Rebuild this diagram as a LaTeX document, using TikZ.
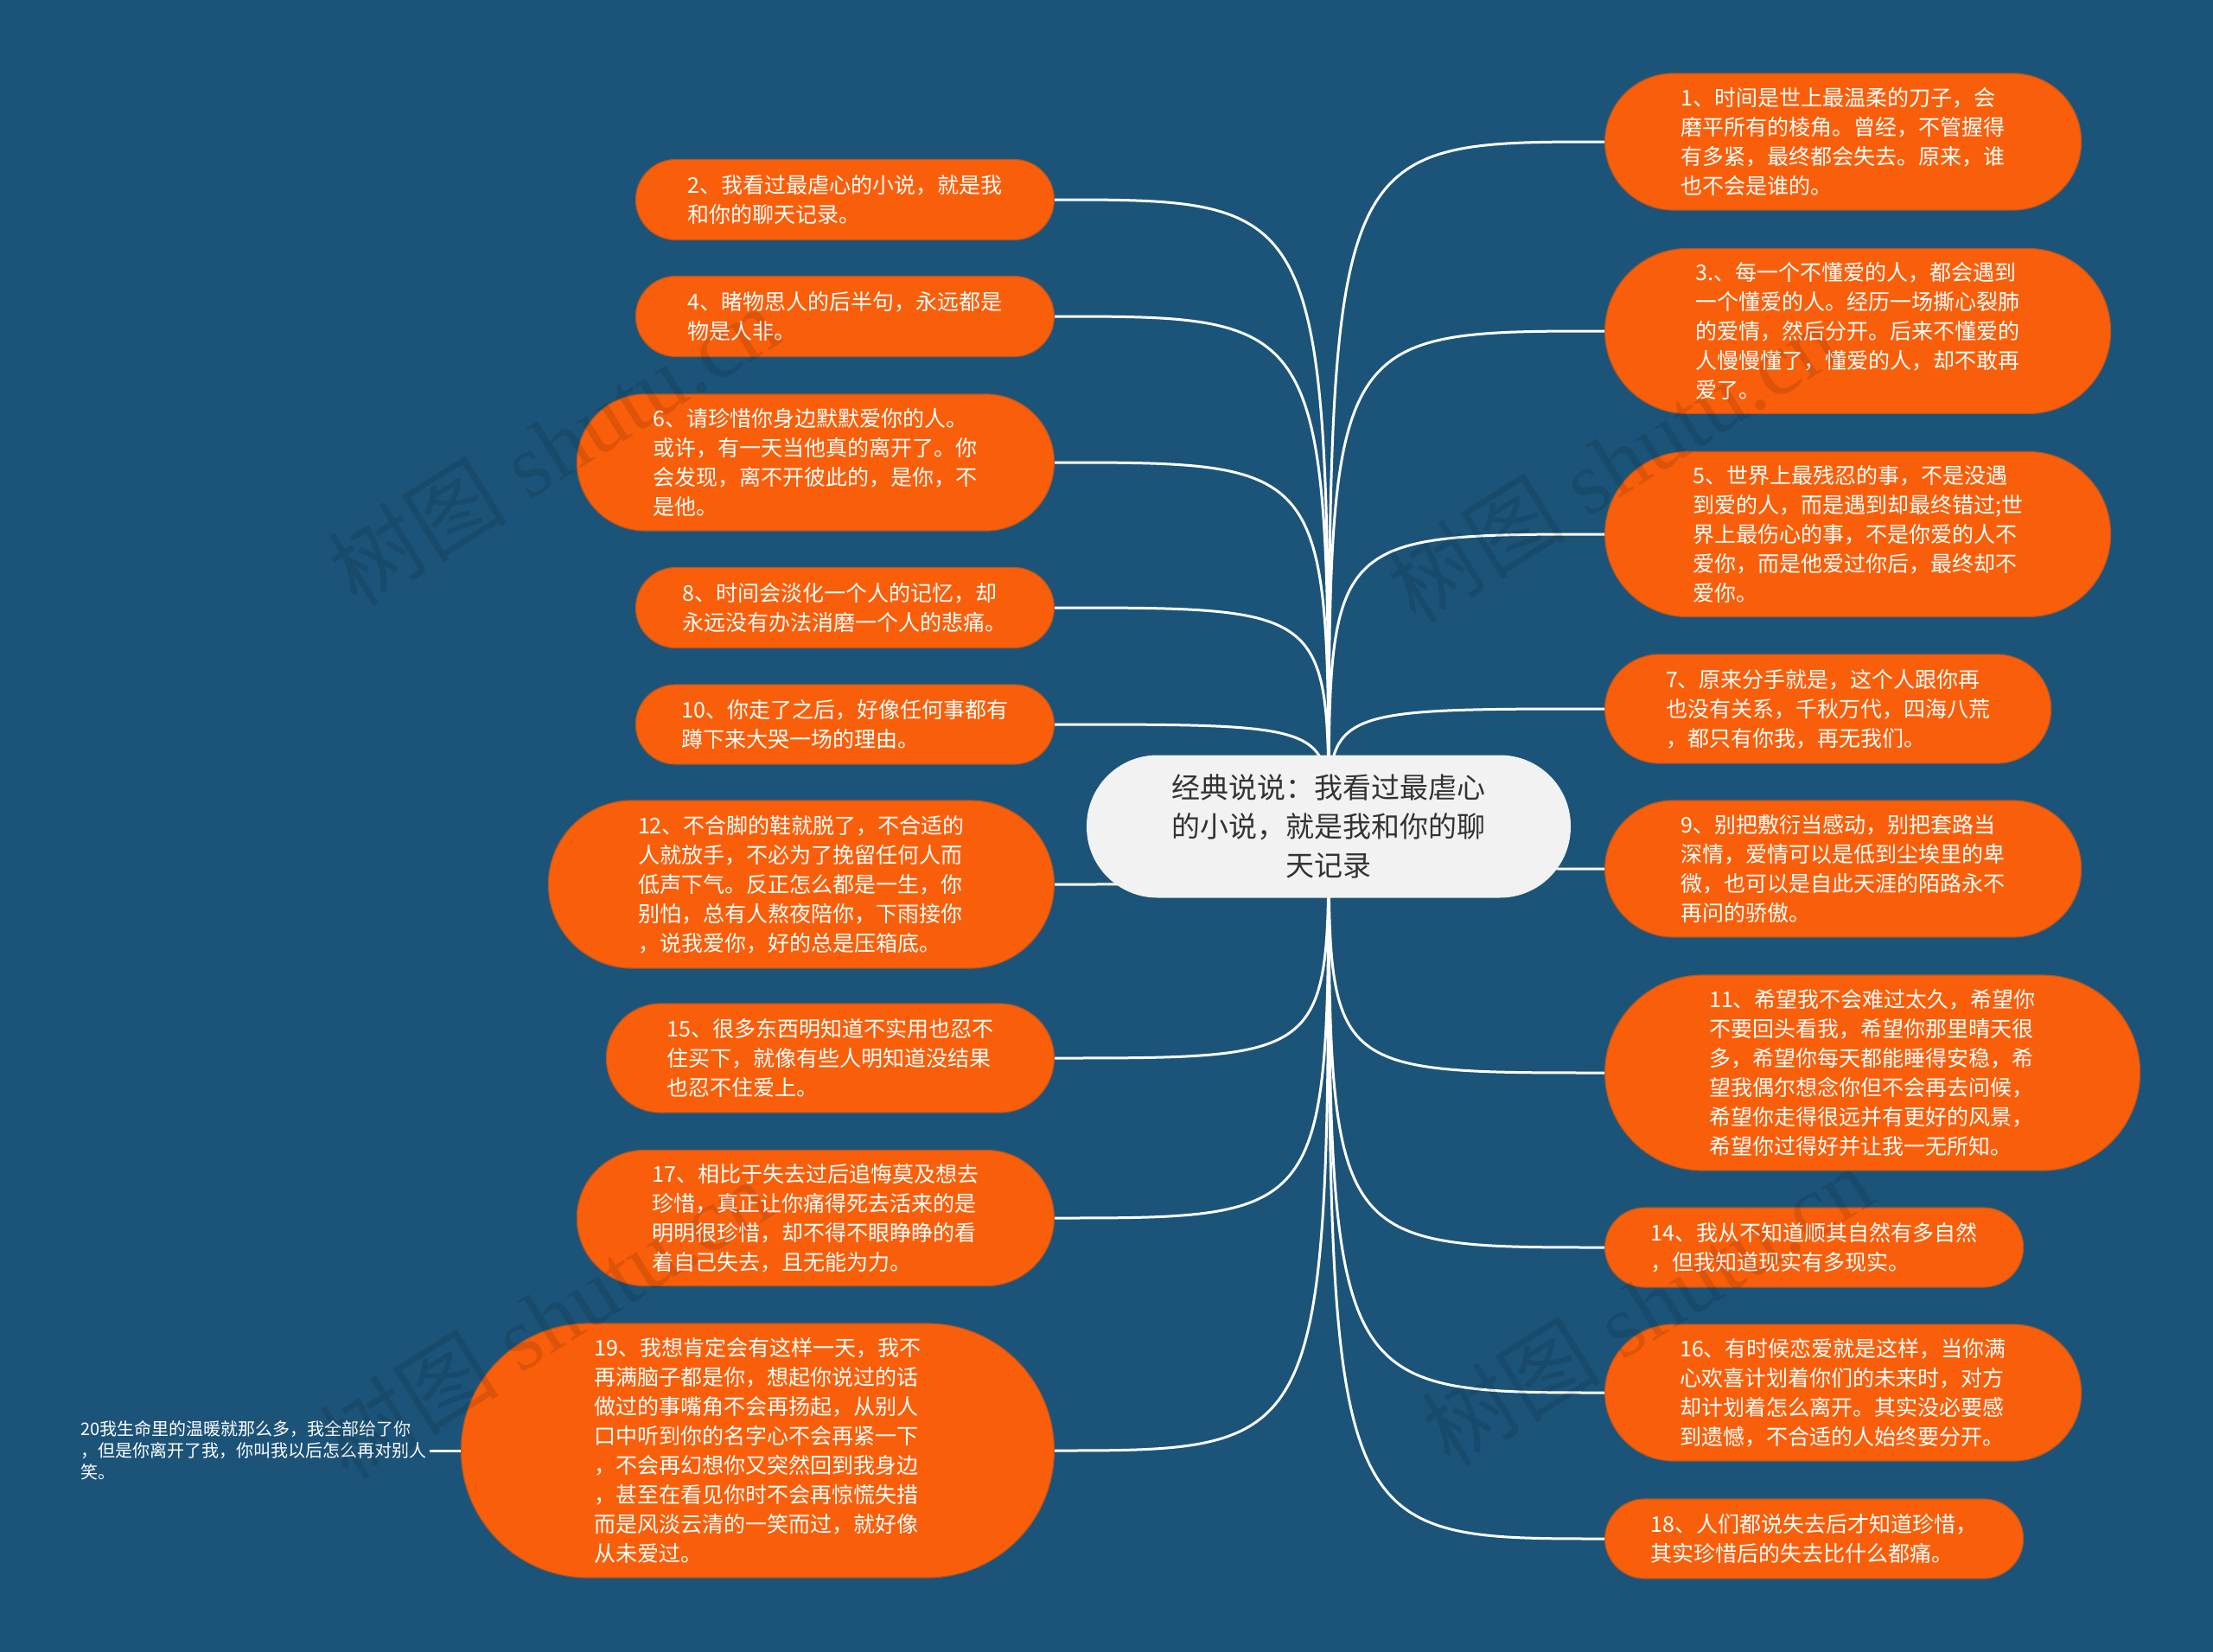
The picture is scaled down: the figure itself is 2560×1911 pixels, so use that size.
\documentclass[tikz,border=0pt]{standalone}
\usepackage{fontspec}
\newfontfamily\cjk{Noto Sans CJK SC}
\newfontfamily\wmserif{Liberation Serif}
\definecolor{bgblue}{HTML}{1C5479}
\definecolor{leafor}{HTML}{F95F0B}
\definecolor{leafedge}{HTML}{B9561F}
\definecolor{rootgray}{HTML}{F2F2F2}
\definecolor{roottext}{HTML}{333333}
\tikzset{
  leaf/.style 2 args={fill=leafor, draw=leafedge, line width=1.2pt, text=white, align=left,
    inner sep=0pt, font=\cjk\fontsize{25}{34}\selectfont,
    minimum width=#1pt, minimum height=#2pt, rounded corners=#2pt/2},
  root/.style={fill=rootgray, text=roottext, align=center, inner sep=0pt,
    font=\cjk\fontsize{33}{45}\selectfont, minimum width=560pt, minimum height=165pt,
    rounded corners=82pt},
  note/.style={text=white, align=left, inner sep=4pt, font=\cjk\fontsize{20}{25}\selectfont},
  link/.style={white, line width=3pt},
  wm/.style={black, opacity=0.11, rotate=32, font=\wmserif\fontsize{104}{104}\selectfont}
}
\begin{document}
\begin{tikzpicture}[x=1pt,y=-1pt]
% canvas
\fill[bgblue] (0,0) rectangle (2560,1911);
\useasboundingbox (0,0) rectangle (2560,1911);
\coordinate (hub) at (1537,956);
% left branches
\foreach \n/\y/\w/\h/\txt in {
  2/231/484/93/{2、我看过最虐心的小说，就是我\\和你的聊天记录。},
  4/366/484/93/{4、睹物思人的后半句，永远都是\\物是人非。},
  6/535/552/158/{6、请珍惜你身边默默爱你的人。\\或许，有一天当他真的离开了。你\\会发现，离不开彼此的，是你，不\\是他。},
  8/703/484/93/{8、时间会淡化一个人的记忆，却\\永远没有办法消磨一个人的悲痛。},
  10/838/484/92/{10、你走了之后，好像任何事都有\\蹲下来大哭一场的理由。},
  12/1023/585/194/{12、不合脚的鞋就脱了，不合适的\\人就放手，不必为了挽留任何人而\\低声下气。反正怎么都是一生，你\\别怕，总有人熬夜陪你，下雨接你\\，说我爱你，好的总是压箱底。},
  15/1224/518/126/{15、很多东西明知道不实用也忍不\\住买下，就像有些人明知道没结果\\也忍不住爱上。},
  17/1409/552/157/{17、相比于失去过后追悔莫及想去\\珍惜，真正让你痛得死去活来的是\\明明很珍惜，却不得不眼睁睁的看\\着自己失去，且无能为力。},
  19/1678/686/294/{19、我想肯定会有这样一天，我不\\再满脑子都是你，想起你说过的话\\做过的事嘴角不会再扬起，从别人\\口中听到你的名字心不会再紧一下\\，不会再幻想你又突然回到我身边\\，甚至在看见你时不会再惊慌失措\\而是风淡云清的一笑而过，就好像\\从未爱过。}}{
  \node[leaf={\w}{\h}, anchor=east] (n\n) at (1220,\y) {\txt};
  \draw[link] (hub) .. controls (hub |- n\n.east) .. (n\n.east);
}
% right branches
\foreach \n/\y/\w/\h/\txt in {
  1/164/551/158/{1、时间是世上最温柔的刀子，会\\磨平所有的棱角。曾经，不管握得\\有多紧，最终都会失去。原来，谁\\也不会是谁的。},
  3/383/585/191/{3.、每一个不懂爱的人，都会遇到\\一个懂爱的人。经历一场撕心裂肺\\的爱情，然后分开。后来不懂爱的\\人慢慢懂了，懂爱的人，却不敢再\\爱了。},
  5/618/585/191/{5、世界上最残忍的事，不是没遇\\到爱的人，而是遇到却最终错过;世\\界上最伤心的事，不是你爱的人不\\爱你，而是他爱过你后，最终却不\\爱你。},
  7/820/516/126/{7、原来分手就是，这个人跟你再\\也没有关系，千秋万代，四海八荒\\，都只有你我，再无我们。},
  9/1005/551/158/{9、别把敷衍当感动，别把套路当\\深情，爱情可以是低到尘埃里的卑\\微，也可以是自此天涯的陌路永不\\再问的骄傲。},
  11/1241/619/226/{11、希望我不会难过太久，希望你\\不要回头看我，希望你那里晴天很\\多，希望你每天都能睡得安稳，希\\望我偶尔想念你但不会再去问候，\\希望你走得很远并有更好的风景，\\希望你过得好并让我一无所知。},
  14/1443/484/92/{14、我从不知道顺其自然有多自然\\，但我知道现实有多现实。},
  16/1611/551/158/{16、有时候恋爱就是这样，当你满\\心欢喜计划着你们的未来时，对方\\却计划着怎么离开。其实没必要感\\到遗憾，不合适的人始终要分开。},
  18/1780/484/92/{18、人们都说失去后才知道珍惜，\\其实珍惜后的失去比什么都痛。}}{
  \node[leaf={\w}{\h}, anchor=west] (n\n) at (1856,\y) {\txt};
  \draw[link] (hub) .. controls (hub |- n\n.west) .. (n\n.west);
}
% centre topic
\node[root] (root) at (hub) {经典说说：我看过最虐心\\的小说，就是我和你的聊\\天记录};
% sub branch of 19
\node[note, anchor=west] (n20) at (89,1678) {20我生命里的温暖就那么多，我全部给了你\\，但是你离开了我，你叫我以后怎么再对别人\\笑。};
\draw[link] (n19.west) -- (n20.east);
% watermarks
\foreach \x/\y/\k in {640/515/1, 1865/535/2, 630/1525/3, 1905/1510/4}
  \node[wm] (wm\k) at (\x,\y) {{\cjk 树图} shutu.cn};
\end{tikzpicture}
\end{document}
